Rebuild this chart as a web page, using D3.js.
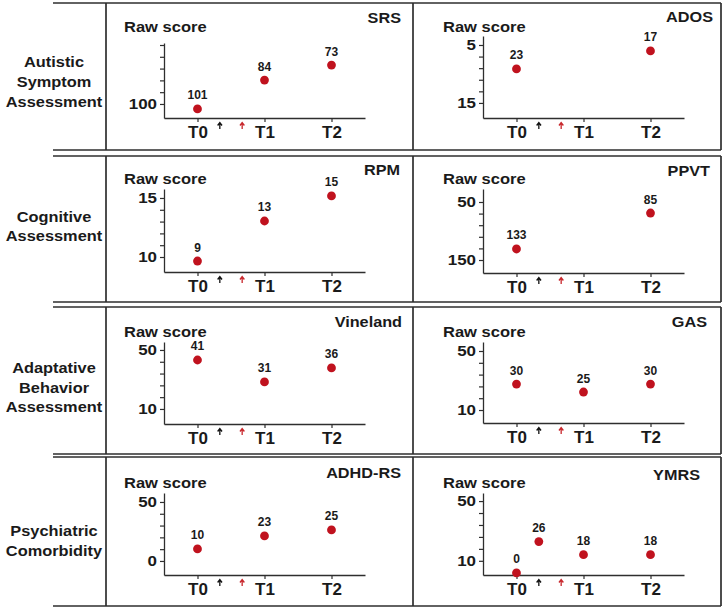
<!DOCTYPE html>
<html><head><meta charset="utf-8">
<script src="https://cdn.jsdelivr.net/npm/d3@7"></script>
<style>body{margin:0;background:#fff}svg{display:block}text{font-family:"Liberation Sans",Arial,sans-serif;font-weight:bold;fill:#1a1a1a}</style>
</head><body><svg id="c" width="725" height="609"></svg>
<script>
// ---------- data ----------
const rowLabels = [["Autistic","Symptom","Assessment"],["Cognitive","Assessment"],["Adaptative","Behavior","Assessment"],["Psychiatric","Comorbidity"]];
const timeLabels = ["T0","T1","T2"];
const interventionTimes = [1/3, 2/3]; // black and red arrows

const srsTimes = [0,1,2], srsValues = [104.2,79.7,67.0], srsLabels = ["101","84","73"];
const srsTicks = [100,90,80,70,60,50], srsTickLabels = ["100","","","","",""], srsDomain = [111.9,48.3];

const adosTimes = [0,2], adosValues = [9.14,6.03], adosLabels = ["23","17"];
const adosTicks = [5,7,9,11,13,15], adosTickLabels = ["5","","","","","15"], adosDomain = [17.6,3.45];

const rpmTimes = [0,1,2], rpmValues = [9.66,13.05,15.17], rpmLabels = ["9","13","15"];
const rpmTicks = [10,11,12,13,14,15], rpmTickLabels = ["10","","","","","15"], rpmDomain = [8.73,15.76];

const ppvtTimes = [0,2], ppvtValues = [131,69], ppvtLabels = ["133","85"];
const ppvtTicks = [50,70,90,110,130,150], ppvtTickLabels = ["50","","","","","150"], ppvtDomain = [172.4,27.6];

const vinTimes = [0,1,2], vinValues = [43.2,28.3,37.8], vinLabels = ["41","31","36"];
const vinTicks = [10,18,26,34,42,50], vinTickLabels = ["10","","","","","50"], vinDomain = [-0.2,55.4];

const gasTimes = [0,1,2], gasValues = [27.6,22.2,27.6], gasLabels = ["30","25","30"];
const gasTicks = [10,18,26,34,42,50], gasTickLabels = ["10","","","","","50"], gasDomain = [1.2,56.1];

const adhdTimes = [0,1,2], adhdValues = [10.2,21.2,26.3], adhdLabels = ["10","23","25"];
const adhdTicks = [0,10,20,30,40,50], adhdTickLabels = ["0","","","","","50"], adhdDomain = [-11.9,57.6];

const ymrsTimes = [0,1/3,1,2], ymrsValues = [1.9,22.9,14.1,14.1], ymrsLabels = ["0","26","18","18"];
const ymrsTicks = [10,18,26,34,42,50], ymrsTickLabels = ["10","","","","","50"], ymrsDomain = [0.5,55.4];

// ---------- layout ----------
const rowTop = [3,156,307,457], rowBot = [150,302,454,606];
const rowLabelBase = [[67,87,107],[222,241],[373,393,412],[536,556]];
const rawBase = [32,184,337,488];
const cols = [{axisX:164,end:365,raw:124},{axisX:483,end:684,raw:443}];

const panels = [
 {name:"SRS",row:0,col:0,t:srsTimes,v:srsValues,l:srsLabels,ticks:srsTicks,tl:srsTickLabels,dom:srsDomain,top:43,base:118,titleR:401,titleY:23},
 {name:"ADOS",row:0,col:1,t:adosTimes,v:adosValues,l:adosLabels,ticks:adosTicks,tl:adosTickLabels,dom:adosDomain,top:36,base:118,titleR:713,titleY:22},
 {name:"RPM",row:1,col:0,t:rpmTimes,v:rpmValues,l:rpmLabels,ticks:rpmTicks,tl:rpmTickLabels,dom:rpmDomain,top:189,base:272,titleR:400,titleY:175},
 {name:"PPVT",row:1,col:1,t:ppvtTimes,v:ppvtValues,l:ppvtLabels,ticks:ppvtTicks,tl:ppvtTickLabels,dom:ppvtDomain,top:189,base:273,titleR:710,titleY:176},
 {name:"Vineland",row:2,col:0,t:vinTimes,v:vinValues,l:vinLabels,ticks:vinTicks,tl:vinTickLabels,dom:vinDomain,top:342,base:424,titleR:402,titleY:327},
 {name:"GAS",row:2,col:1,t:gasTimes,v:gasValues,l:gasLabels,ticks:gasTicks,tl:gasTickLabels,dom:gasDomain,top:342,base:423,titleR:707,titleY:327},
 {name:"ADHD-RS",row:3,col:0,t:adhdTimes,v:adhdValues,l:adhdLabels,ticks:adhdTicks,tl:adhdTickLabels,dom:adhdDomain,top:493,base:575,titleR:401,titleY:478},
 {name:"YMRS",row:3,col:1,t:ymrsTimes,v:ymrsValues,l:ymrsLabels,ticks:ymrsTicks,tl:ymrsTickLabels,dom:ymrsDomain,top:493,base:575,titleR:700,titleY:480}
];

const svg = d3.select("#c");
const LINE = "#2e2e2e", RED = "#c0121e", ARROW_RED = "#c8262b";

function stretchedText(g, x, y, txt, size, sx, anchor){
  return g.append("text").attr("transform",`translate(${x},${y}) scale(${sx},1)`)
    .attr("text-anchor",anchor).style("font-size",size+"px").text(txt);
}

// frame
rowTop.forEach((t,i)=>{
  const b = rowBot[i];
  const f = svg.append("g").attr("fill","none").attr("stroke",LINE).attr("stroke-width",1.7);
  f.append("line").attr("x1",53).attr("x2",721).attr("y1",t).attr("y2",t);
  f.append("line").attr("x1",53).attr("x2",721).attr("y1",b).attr("y2",b);
  [106,413,721].forEach(x=>f.append("line").attr("x1",x).attr("x2",x).attr("y1",t).attr("y2",b));
  rowLabels[i].forEach((s,j)=>stretchedText(svg,54,rowLabelBase[i][j],s,14,1.17,"middle"));
  cols.forEach(c=>stretchedText(svg,c.raw,rawBase[i],"Raw score",14,1.18,"start"));
});

panels.forEach(p=>{
  const c = cols[p.col];
  const g = svg.append("g");
  const x = d3.scaleLinear().domain([-0.5,2.5]).range([c.axisX,c.end]);
  const y = d3.scaleLinear().domain(p.dom).range([p.base,p.top]);

  // y axis
  const ya = g.append("g").attr("transform",`translate(${c.axisX},0)`)
    .call(d3.axisLeft(y).tickValues(p.ticks).tickSize(4).tickSizeOuter(0).tickPadding(3)
      .tickFormat((d,i)=>p.tl[i]));
  ya.select(".domain").attr("stroke",LINE).attr("stroke-width",1.3);
  ya.selectAll(".tick line").attr("stroke",LINE).attr("stroke-width",1.2);
  ya.selectAll(".tick text").attr("x",null).attr("transform","translate(-7,0) scale(1.13,1)")
    .attr("fill","#1a1a1a").style("font-size","15px").style("font-family",'"Liberation Sans",Arial,sans-serif').style("font-weight","bold");

  // x axis
  const xa = g.append("g").attr("transform",`translate(0,${p.base})`)
    .call(d3.axisBottom(x).tickValues([0,1,2]).tickSize(4).tickSizeOuter(0).tickPadding(4)
      .tickFormat(i=>timeLabels[i]));
  xa.select(".domain").attr("stroke",LINE).attr("stroke-width",1.3);
  xa.selectAll(".tick line").attr("stroke",LINE).attr("stroke-width",1.2);
  xa.selectAll(".tick text").attr("fill","#1a1a1a").style("font-size","17px")
    .style("font-family",'"Liberation Sans",Arial,sans-serif').style("font-weight","bold");

  // intervention arrows
  interventionTimes.forEach((t,i)=>{
    const ax = x(t), col = i===0 ? "#111" : ARROW_RED;
    g.append("path")
      .attr("d",`M${ax},${p.base+11}L${ax},${p.base+4.5}M${ax-2.2},${p.base+7.5}L${ax},${p.base+4.5}L${ax+2.2},${p.base+7.5}`)
      .attr("fill","none").attr("stroke",col).attr("stroke-width",1.3);
  });

  // points
  g.selectAll("circle.pt").data(p.v).join("circle").attr("class","pt")
    .attr("cx",(d,i)=>x(p.t[i])).attr("cy",d=>y(d)).attr("r",4.4).attr("fill",RED);
  g.selectAll("text.lab").data(p.l).join("text").attr("class","lab")
    .attr("x",(d,i)=>x(p.t[i])).attr("y",(d,i)=>y(p.v[i])-9.5)
    .attr("text-anchor","middle").style("font-size","12px").text(d=>d);

  // title
  stretchedText(svg,p.titleR,p.titleY,p.name,14,1.16,"end");
});
</script></body></html>
